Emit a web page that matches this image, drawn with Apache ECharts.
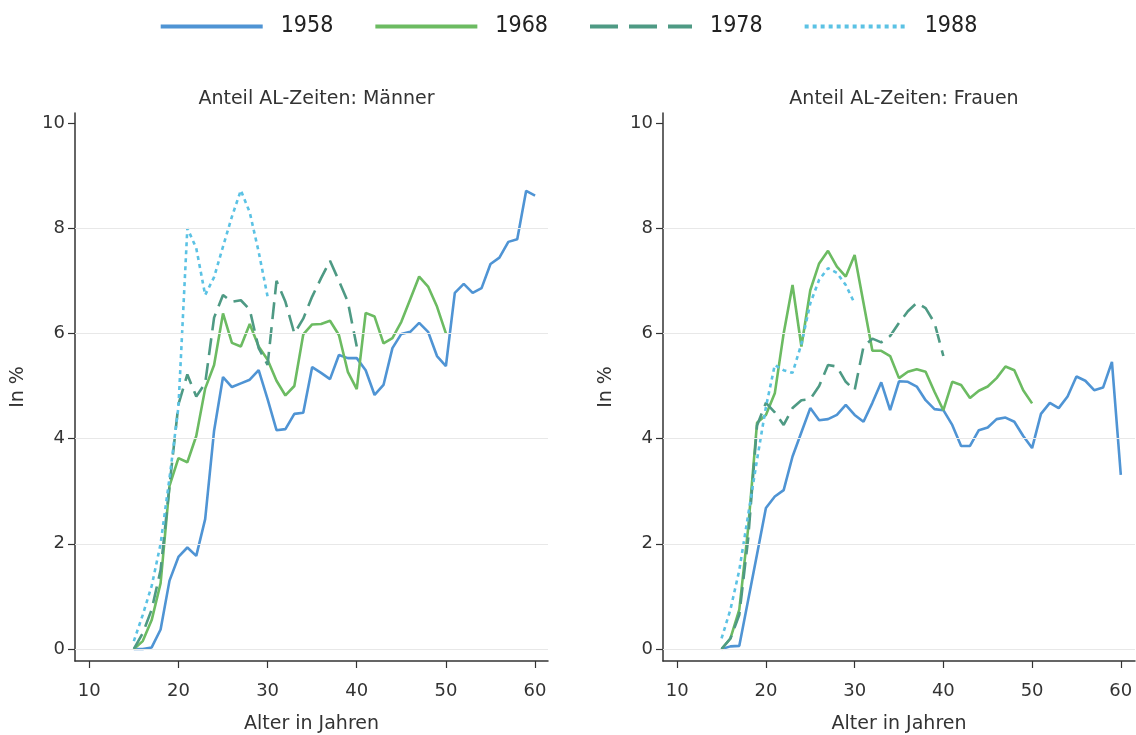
<!DOCTYPE html>
<html>
<head>
<meta charset="utf-8">
<script src="https://cdn.jsdelivr.net/npm/echarts@6/dist/echarts.min.js"></script>
<style>
html,body{margin:0;padding:0;background:#fff;}
#chart{width:1136px;height:735px;}
</style>
</head>
<body>
<div id="chart"></div>
<script>
// ---- Data ----
const ages = [15,16,17,18,19,20,21,22,23,24,25,26,27,28,29,30,31,32,33,34,35,36,37,38,39,40,41,42,43,44,45,46,47,48,49,50,51,52,53,54,55,56,57,58,59,60];
const seriesNames = ['1958','1968','1978','1988'];
const xTickValues = [10,20,30,40,50,60];
const yTickValues = [0,2,4,6,8,10];
const gridValues = [0,2,4,6,8];
const panelTitles = ['Anteil AL-Zeiten: Männer','Anteil AL-Zeiten: Frauen'];

// Männer
const m1958 = [0,0,0.03,0.37,1.3,1.75,1.93,1.77,2.47,4.15,5.17,4.98,5.05,5.12,5.3,4.75,4.16,4.18,4.47,4.49,5.36,5.25,5.13,5.59,5.53,5.53,5.3,4.83,5.02,5.72,5.99,6.03,6.2,6.03,5.57,5.38,6.77,6.94,6.77,6.86,7.32,7.44,7.74,7.79,8.71,8.62];
const m1968 = [0,0.15,0.55,1.25,3.1,3.63,3.55,4.05,4.95,5.4,6.38,5.82,5.75,6.18,5.75,5.5,5.1,4.82,5.0,5.98,6.17,6.18,6.24,5.97,5.27,4.94,6.39,6.32,5.81,5.91,6.22,6.65,7.08,6.89,6.51,6.0];
const m1978 = [0,0.3,0.75,1.5,3.1,4.65,5.22,4.8,5.05,6.3,6.73,6.6,6.63,6.45,5.72,5.4,7.0,6.6,6.0,6.28,6.7,7.05,7.38,7.0,6.6,5.75];
const m1988 = [0.15,0.65,1.2,2.0,3.25,4.6,8.0,7.62,6.73,7.07,7.65,8.22,8.72,8.3,7.55,6.7];

// Frauen
const f1958 = [0,0.05,0.06,0.93,1.8,2.68,2.9,3.02,3.66,4.12,4.58,4.35,4.37,4.45,4.64,4.45,4.32,4.68,5.07,4.54,5.09,5.08,4.99,4.73,4.56,4.54,4.26,3.86,3.86,4.16,4.21,4.37,4.4,4.32,4.05,3.82,4.47,4.68,4.58,4.8,5.18,5.1,4.92,4.97,5.46,3.31];
const f1968 = [0,0.2,0.75,2.3,4.3,4.45,4.86,6.0,6.92,5.75,6.82,7.33,7.57,7.27,7.08,7.49,6.58,5.67,5.67,5.57,5.15,5.27,5.32,5.27,4.89,4.54,5.08,5.02,4.77,4.91,4.99,5.15,5.37,5.3,4.92,4.67];
const f1978 = [0,0.2,0.65,2.1,4.25,4.68,4.5,4.26,4.58,4.73,4.75,5.0,5.4,5.37,5.08,4.92,5.75,5.9,5.83,5.95,6.2,6.42,6.58,6.48,6.2,5.57];
const f1988 = [0.2,0.75,1.5,2.55,3.6,4.6,5.4,5.3,5.25,5.8,6.57,7.02,7.24,7.15,6.92,6.57];

// ---- Styles ----
const colors = {'1958':'#4f94d4','1968':'#6cbb62','1978':'#4e9a84','1988':'#5bc2e4'};
const lineTypes = {'1958':'solid','1968':'solid','1978':[17,8],'1988':[4,4]};
const FONT = 'DejaVu Sans';
const LEGEND_FONT = "'DejaVu Sans Condensed', 'Liberation Sans Narrow', 'Liberation Sans', 'DejaVu Sans', sans-serif";

function pairs(vals){ return vals.map((v,i)=>[ages[i], v]); }

const panels = [
  {data:{'1958':m1958,'1968':m1968,'1978':m1978,'1988':m1988}},
  {data:{'1958':f1958,'1968':f1968,'1978':f1978,'1988':f1988}}
];

const grids = [
  {left:75, top:113, width:473, height:548, containLabel:false, outerBoundsMode:'none'},
  {left:663, top:113, width:472, height:548, containLabel:false, outerBoundsMode:'none'}
];
const xMax = [61.45, 61.6];

const xAxes = grids.map((g,i)=>({
  type:'value', gridIndex:i, min:8.4, max:xMax[i],
  name:'Alter in Jahren', nameLocation:'middle', nameGap:54,
  nameTextStyle:{fontFamily:FONT, fontSize:19, color:'#333'},
  axisLine:{show:true, onZero:false, lineStyle:{color:'#333', width:1.5}},
  axisTick:{show:true, length:7, customValues:xTickValues, lineStyle:{color:'#333', width:1.2}},
  axisLabel:{customValues:xTickValues, margin:21, fontFamily:FONT, fontSize:18, color:'#333'},
  splitLine:{show:false}
}));
const yAxes = grids.map((g,i)=>({
  type:'value', gridIndex:i, min:-0.228, max:10.19,
  name:'In %', nameLocation:'middle', nameGap:47,
  nameTextStyle:{fontFamily:FONT, fontSize:19, color:'#333'},
  axisLine:{show:true, onZero:false, lineStyle:{color:'#333', width:1.5}},
  axisTick:{show:true, length:7, customValues:yTickValues, lineStyle:{color:'#333', width:1.2}},
  axisLabel:{customValues:yTickValues, margin:10, fontFamily:FONT, fontSize:18, color:'#333'},
  splitLine:{show:false}
}));

const series = [];
panels.forEach((p,pi)=>{
  // gridlines
  series.push({
    type:'line', xAxisIndex:pi, yAxisIndex:pi, data:[], silent:true, z:1,
    markLine:{silent:true, symbol:'none', label:{show:false}, animation:false,
      lineStyle:{color:'#e8e8e8', width:1, type:'solid'},
      data: gridValues.map(v=>({yAxis:v}))}
  });
  seriesNames.forEach(n=>{
    series.push({
      name:n, type:'line', xAxisIndex:pi, yAxisIndex:pi,
      data:pairs(p.data[n]), showSymbol:false, symbol:'none', z:3,
      color:colors[n],
      lineStyle:{color:colors[n], width:2.6, type:lineTypes[n]},
      animation:false
    });
  });
});

const option = {
  backgroundColor:'#fff',
  animation:false,
  title: panelTitles.map((t,i)=>({
    text:t, left: grids[i].left + grids[i].width/2, top:85, textAlign:'center',
    textStyle:{fontFamily:FONT, fontSize:19, fontWeight:'normal', color:'#333'}
  })),
  legend:{
    top:10, left:'center', itemWidth:102, itemHeight:14, itemGap:40,
    textStyle:{fontFamily:LEGEND_FONT, fontSize:23, color:'#222', padding:[0,0,0,13]},
    lineStyle:{width:4},
    itemStyle:{opacity:0},
    data:[
      {name:'1958'},
      {name:'1968'},
      {name:'1978', lineStyle:{type:[28,11], width:4}},
      {name:'1988', lineStyle:{type:[4,4], width:4}}
    ]
  },
  grid: grids,
  xAxis: xAxes,
  yAxis: yAxes,
  series: series
};

const chart = echarts.init(document.getElementById('chart'), null, {renderer:'canvas'});
chart.setOption(option);
</script>
</body>
</html>
